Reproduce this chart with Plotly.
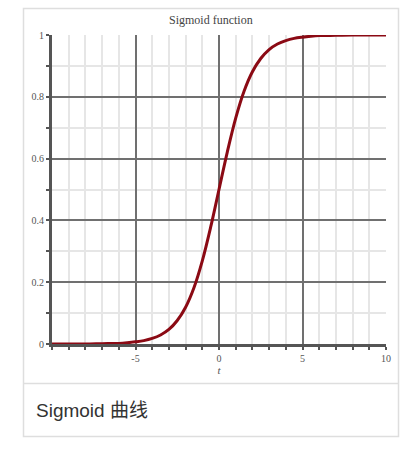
import plotly.graph_objects as go

# Values
t_values = [-10, -9, -8, -7, -6, -5.5, -5, -4.5, -4, -3.5, -3, -2.5, -2, -1.5, -1, -0.5,
            0, 0.5, 1, 1.5, 2, 2.5, 3, 3.5, 4, 4.5, 5, 5.5, 6, 7, 8, 9, 10]
sigmoid_values = [0.000, 0.000, 0.000, 0.001, 0.002, 0.004, 0.007, 0.011, 0.018, 0.029,
                  0.047, 0.076, 0.119, 0.182, 0.269, 0.378, 0.500, 0.622, 0.731, 0.818,
                  0.881, 0.924, 0.953, 0.971, 0.982, 0.989, 0.993, 0.996, 0.998, 0.999,
                  1.000, 1.000, 1.000]
x_tick_vals = [-5, 0, 5, 10]
x_tick_text = ["-5", "0", "5", "10"]
y_tick_vals = [0, 0.2, 0.4, 0.6, 0.8, 1]
y_tick_text = ["0", "0.2", "0.4", "0.6", "0.8", "1"]
chart_title = "Sigmoid function"
x_label = "t"
caption = "Sigmoid 曲线"

W, H = 417, 449
px_x = lambda p: p / W
px_y = lambda p: 1 - p / H

fig = go.Figure()
fig.add_trace(go.Scatter(
    x=t_values, y=sigmoid_values, mode="lines",
    line=dict(color="#8b0a14", width=3, shape="spline"),
    hoverinfo="skip", showlegend=False,
))

serif = "Liberation Serif, DejaVu Serif, serif"
tick_font = dict(family=serif, size=10, color="#555")

fig.update_layout(
    width=W, height=H,
    margin=dict(l=0, r=0, t=0, b=0, autoexpand=False),
    paper_bgcolor="white", plot_bgcolor="white",
    showlegend=False,
    xaxis=dict(
        domain=[px_x(52), px_x(386)],
        range=[-10, 10], fixedrange=True, automargin=False,
        tickmode="array", tickvals=x_tick_vals, ticktext=x_tick_text,
        tickfont=tick_font,
        showgrid=True, gridcolor="#707070", gridwidth=1.5,
        zeroline=False,
        showline=True, linecolor="#555", linewidth=3,
        ticks="outside", ticklen=3, tickcolor="#555", tickwidth=1.5,
        minor=dict(dtick=1, tick0=0, showgrid=True, gridcolor="#e6e6e6", gridwidth=1.5,
                   ticks="outside", ticklen=3, tickcolor="#555", tickwidth=1.5),
        title=dict(text="<i>" + x_label + "</i>",
                   font=dict(family=serif, size=11, color="#555"),
                   standoff=4),
    ),
    yaxis=dict(
        domain=[px_y(344), px_y(35)],
        range=[0, 1], fixedrange=True, automargin=False,
        tickmode="array", tickvals=y_tick_vals, ticktext=y_tick_text,
        tickfont=tick_font,
        showgrid=True, gridcolor="#707070", gridwidth=1.5,
        zeroline=False,
        showline=True, linecolor="#555", linewidth=3,
        ticks="outside", ticklen=3, tickcolor="#555", tickwidth=1.5,
        minor=dict(dtick=0.1, tick0=0, showgrid=True, gridcolor="#e6e6e6", gridwidth=1.5,
                   ticks="outside", ticklen=3, tickcolor="#555", tickwidth=1.5),
    ),
    shapes=[
        dict(type="rect", xref="paper", yref="paper",
             x0=px_x(23.5), x1=px_x(398.5), y0=px_y(436.5), y1=px_y(8.5),
             line=dict(color="#dedede", width=1.5), fillcolor="rgba(0,0,0,0)", layer="below"),
        dict(type="line", xref="paper", yref="paper",
             x0=px_x(23.5), x1=px_x(398.5), y0=px_y(383.5), y1=px_y(383.5),
             line=dict(color="#dedede", width=1.5), layer="below"),
    ],
    annotations=[
        dict(text=chart_title, xref="paper", yref="paper",
             x=px_x(211), y=px_y(20), xanchor="center", yanchor="middle",
             showarrow=False,
             font=dict(family=serif, size=12, color="#444")),
        dict(text=caption, xref="paper", yref="paper",
             x=px_x(34), y=px_y(410), xanchor="left", yanchor="middle",
             showarrow=False,
             font=dict(family="Liberation Sans, Noto Sans CJK SC, sans-serif", size=19, color="#333")),
    ],
)

fig.write_html("out.html")
